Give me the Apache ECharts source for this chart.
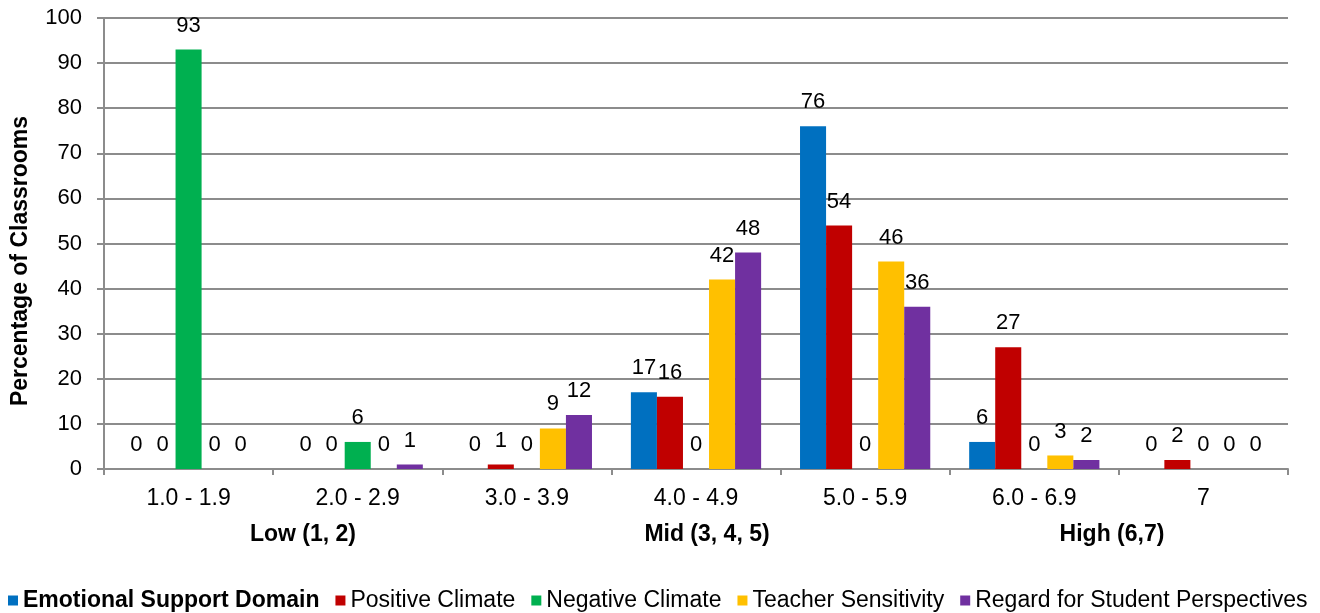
<!DOCTYPE html>
<html>
<head>
<meta charset="utf-8">
<script src="https://cdn.jsdelivr.net/npm/echarts@6/dist/echarts.min.js"></script>
<style>
  html, body { margin: 0; padding: 0; background: #fff; }
  #chart { width: 1320px; height: 613px; }
</style>
</head>
<body>
<div id="chart"></div>
<script>
// Score ranges on the x axis
const categories = ['1.0 - 1.9', '2.0 - 2.9', '3.0 - 3.9', '4.0 - 4.9', '5.0 - 5.9', '6.0 - 6.9', '7'];

// Percentage of classrooms in each score range
const emotionalSupport   = [0, 0, 0, 17, 76, 6, 0];
const positiveClimate    = [0, 0, 1, 16, 54, 27, 2];
const negativeClimate    = [93, 6, 0, 0, 0, 0, 0];
const teacherSensitivity = [0, 0, 9, 42, 46, 3, 0];
const regardPerspectives = [0, 1, 12, 48, 36, 2, 0];

const seriesNames = [
  'Emotional Support Domain',
  'Positive Climate',
  'Negative Climate',
  'Teacher Sensitivity',
  'Regard for Student Perspectives'
];
const seriesData = [emotionalSupport, positiveClimate, negativeClimate, teacherSensitivity, regardPerspectives];
const seriesColors = ['#0070C0', '#C00000', '#00B050', '#FFC000', '#7030A0'];

// Band labels under the category axis
const bandLabels = ['Low (1, 2)', 'Mid (3, 4, 5)', 'High (6,7)'];
const bandX = [303, 707, 1112];

const yTitle = 'Percentage of Classrooms';
const yTicks = { min: 0, max: 100, interval: 10 };

const FONT = '"Liberation Sans", Arial, sans-serif';
const GRID_GRAY = '#8c8c8c';

const chart = echarts.init(document.getElementById('chart'));

const bandGraphics = bandLabels.map(function (t, i) {
  return {
    type: 'text',
    x: bandX[i],
    y: 535,
    style: {
      text: t,
      fontFamily: FONT,
      fontSize: 23,
      fontWeight: 'bold',
      fill: '#000',
      align: 'center',
      verticalAlign: 'middle'
    }
  };
});

// Vertical axis title, rotated to read bottom-to-top
const titleGraphic = {
  type: 'text',
  x: 21,
  y: 261,
  rotation: Math.PI / 2,
  style: {
    text: yTitle,
    fontFamily: FONT,
    fontSize: 23,
    fontWeight: 'bold',
    fill: '#000',
    align: 'center',
    verticalAlign: 'middle'
  }
};

chart.setOption({
  animation: false,
  textStyle: { fontFamily: FONT },
  grid: { left: 104, right: 32, top: 18, bottom: 144, outerBoundsMode: 'none', containLabel: false },
  legend: {
    left: 3,
    top: 584,
    itemWidth: 10,
    itemHeight: 10,
    itemGap: 16,
    icon: 'rect',
    data: seriesNames,
    formatter: function (name) {
      return name === seriesNames[0] ? '{b|' + name + '}' : name;
    },
    textStyle: {
      fontFamily: FONT,
      fontSize: 23,
      color: '#000',
      rich: { b: { fontFamily: FONT, fontSize: 23, fontWeight: 'bold', color: '#000' } }
    }
  },
  xAxis: {
    type: 'category',
    data: categories,
    axisLine: { lineStyle: { color: GRID_GRAY, width: 2 } },
    axisTick: { show: true, length: 6, alignWithLabel: false, lineStyle: { color: GRID_GRAY, width: 2 } },
    axisLabel: { color: '#000', fontSize: 23, margin: 18, fontFamily: FONT }
  },
  yAxis: {
    type: 'value',
    min: yTicks.min,
    max: yTicks.max,
    interval: yTicks.interval,
    axisLine: { show: true, lineStyle: { color: GRID_GRAY, width: 2 } },
    axisTick: { show: true, length: 7, lineStyle: { color: GRID_GRAY, width: 2 } },
    axisLabel: { color: '#000', fontSize: 22, margin: 22, fontFamily: FONT },
    splitLine: { lineStyle: { color: GRID_GRAY, width: 2 } }
  },
  series: seriesNames.map(function (name, i) {
    return {
      name: name,
      type: 'bar',
      data: seriesData[i],
      barGap: '0%',
      barCategoryGap: '23%',
      itemStyle: { color: seriesColors[i] },
      label: {
        show: true,
        position: 'top',
        distance: 13,
        color: '#000',
        fontSize: 22,
        fontFamily: FONT
      }
    };
  }),
  graphic: bandGraphics.concat([titleGraphic])
});
</script>
</body>
</html>
